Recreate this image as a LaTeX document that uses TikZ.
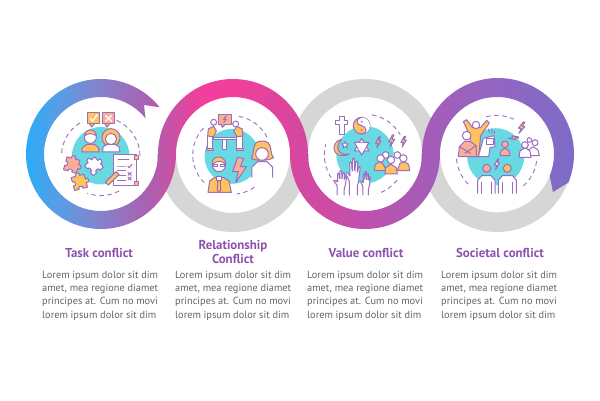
\documentclass[tikz,border=0pt]{standalone}
\usepackage{fontspec}
\setmainfont{PT Sans}
\usetikzlibrary{shapes.geometric}

\definecolor{linepurple}{HTML}{9B6DBE}
\definecolor{headpurple}{HTML}{8E52AE}
\definecolor{bodygrey}{HTML}{626366}
\definecolor{bandgrey}{HTML}{D6D6D6}
\definecolor{blobteal}{HTML}{68D9E2}
\definecolor{iconorange}{HTML}{FFC25E}
\definecolor{iconpink}{HTML}{FAAE96}

\definecolor{ribA}{HTML}{1FB0FF}
\definecolor{ribB}{HTML}{5C9BE2}
\definecolor{ribC}{HTML}{7E86D0}
\definecolor{ribD}{HTML}{A862B2}
\definecolor{ribE}{HTML}{C055A8}
\definecolor{ribF}{HTML}{F23E9C}
\definecolor{ribG}{HTML}{F0409A}
\definecolor{ribH}{HTML}{D5479F}
\definecolor{ribI}{HTML}{C44EAB}
\definecolor{ribJ}{HTML}{A65BB8}
\definecolor{ribK}{HTML}{9466C2}
\definecolor{ribL}{HTML}{7A6CC8}
\pgfdeclarehorizontalshading{ribbonshade}{100bp}{
  color(0bp)=(ribA); color(25bp)=(ribA);
  color(29bp)=(ribB); color(31.75bp)=(ribC);
  color(36.3bp)=(ribD); color(38.1bp)=(ribE);
  color(41.3bp)=(ribF); color(44.5bp)=(ribG);
  color(50bp)=(ribH); color(54.6bp)=(ribI);
  color(60.9bp)=(ribJ); color(66.4bp)=(ribK);
  color(75bp)=(ribL); color(100bp)=(ribL)}

\tikzset{
  ln/.style={draw=linepurple,line width=1pt,line join=round,line cap=round},
  dashring/.style={draw=linepurple,line width=.9pt,dash pattern=on 4.5pt off 3.5pt},
  headtext/.style={text=headpurple,font=\fontsize{12.9}{14}\selectfont\bfseries,align=center},
  bodytext/.style={text=bodygrey,font=\fontsize{10.35}{13.33}\selectfont,align=left,anchor=north west,inner sep=0pt},
  zoomed/.style={shift={#1},x=.3333pt,y=-.3333pt}
}

% x, y, scale, rotation, fill
\newcommand{\bolt}[5]{\draw[ln,fill=#5,shift={(#1,#2)},rotate=#4,scale=#3]
  (3,-18) -- (-8,3) -- (0,3) -- (-4,18) -- (10,-5) -- (2,-5) -- (8,-18) -- cycle;}
% x, y, rotation, fill
\newcommand{\puzzle}[4]{\draw[ln,fill=#4,shift={(#1,#2)},rotate=#3]
  (-20,-20) -- (-6,-20) .. controls (-12,-32) and (12,-32) .. (6,-20) -- (20,-20) -- (20,-6)
  .. controls (32,-12) and (32,12) .. (20,6) -- (20,20) -- (6,20) .. controls (12,10) and (-12,10) .. (-6,20)
  -- (-20,20) -- (-20,6) .. controls (-10,12) and (-10,-12) .. (-20,-6) -- cycle;}
% x, y, x scale, y scale
\newcommand{\hand}[4]{\draw[ln,fill=white,shift={(#1,#2)},xscale=#3,yscale=#4,rounded corners=1pt]
  (-11,0) -- (-11,-28) -- (-21,-42) -- (-16,-46) -- (-9,-37) -- (-10,-66) -- (-5,-66) -- (-3,-46)
  -- (-2,-74) -- (3,-74) -- (4,-46) -- (7,-68) -- (12,-67) -- (11,-44) -- (15,-58) -- (19,-56) -- (14,-26) -- (11,-18) -- (11,0);}

\begin{document}
\begin{tikzpicture}[x=1pt,y=1pt]
\useasboundingbox (0,0) rectangle (600,400);

\foreach \cx/\e in {233/360,497/340}
{
    \fill[bandgrey] (\cx-76,246) arc[start angle=180,end angle=\e,x radius=76,y radius=78]
      -- ([shift={(\e:57)}]\cx,246) arc[start angle=\e,end angle=180,x radius=57,y radius=59] -- cycle;
}
\fill[bandgrey] (290,246) arc[start angle=180,end angle=0,radius=75] -- (422,246)
  arc[start angle=0,end angle=180,radius=57] -- cycle;

\shade[shading=ribbonshade] ([shift={(38.5:75)}]101,246) arc[start angle=38.5,end angle=360,radius=75]
  arc[start angle=180,end angle=0,radius=57]
  arc[start angle=180,end angle=360,radius=75]
  arc[start angle=180,end angle=-22.5,radius=57] -- (553,208)
  -- ([shift={(-22:76)}]498,246) arc[start angle=-22,end angle=180,radius=76]
  arc[start angle=0,end angle=-180,radius=57]
  arc[start angle=0,end angle=180,radius=75]
  arc[start angle=0,end angle=-321.4,radius=57] -- (144,295) -- cycle;

\foreach \cx/\cy/\r in {100.7/244.3/28.7,232/243.7/27.5,365/245.3/28.7,495.7/243.3/28.5}
{
    \fill[blobteal] (\cx,\cy) circle (\r);
}
\foreach \cx/\cy/\r/\s/\e in {100.7/243.7/39.3/175/120,100.7/243.7/39.3/66/0,100.7/243.7/39.3/-62/-110,
  232/245/39.3/225/133,232/245/39.3/80/25,232/245/39.3/-55/-83,
  365/245/40.7/225/165,365/245/40.7/80/30,365/245/40.7/-38/-72,
  496.7/244.3/40.3/225/180,496.7/244.3/40.3/105/65,496.7/244.3/40.3/-8/-52}
{
    \draw[dashring] ([shift={(\s:\r)}]\cx,\cy) arc[start angle=\s,end angle=\e,radius=\r];
}

% task
\begin{scope}[zoomed={(55,295)}]
\draw[ln,fill=iconorange] (97,22) rectangle (135,57);
\draw[ln,fill=iconorange] (104,57) -- (110,66) -- (118,57);
\draw[line width=1.3pt,white] (106,40) -- (113,48) -- (127,29);
\draw[ln,fill=iconpink] (142,22) rectangle (178,57);
\draw[ln,fill=iconpink] (150,57) -- (156,66) -- (164,57);
\draw[line width=1.3pt,white] (151,31) -- (170,49) (170,31) -- (151,49);
\draw[ln,fill=iconorange] (80,141) -- (83,127) -- (96,118) -- (118,118) -- (130,127) -- (133,141) -- cycle;
\draw[ln,fill=white] (106,97) circle (18);
\draw[ln,fill=iconorange] (89,92) .. controls (90,68) and (122,68) .. (124,92) .. controls (110,84) and (100,84) .. (89,92) -- cycle;
\draw[ln,fill=iconorange] (168,98) circle (27);
\draw[ln,fill=white] (142,141) -- (145,125) -- (157,118) -- (180,118) -- (192,125) -- (195,141) -- cycle;
\draw[ln,fill=white] (168,102) circle (17);
\puzzle{50}{180}{-15}{iconpink}
\puzzle{117}{184}{40}{white}
\puzzle{73}{232}{15}{iconorange}
\draw[ln,fill=white] (175,150) rectangle (246,243);
\draw[ln,fill=iconorange] (238,152) rectangle (250,164);
\draw[ln,fill=iconorange] (238,230) rectangle (250,243);
\draw[ln] (190,163) -- (222,163) (187,197) -- (212,197) (187,212) -- (212,212) (187,226) -- (212,226);
\draw[line width=1.5pt,bandgrey!80!black] (187,184) -- (213,184);
\draw[ln] (219,184) -- (223,188) -- (231,178);
\draw[ln] (219,202) -- (229,211) (229,202) -- (219,211) (219,216) -- (229,225) (229,216) -- (219,225);
\draw[ln,fill=iconorange] (151,232) -- (183,200) -- (192,209) -- (160,240) -- cycle;
\end{scope}

% relationship
\begin{scope}[zoomed={(187,295)}]
\draw[ln,fill=iconpink] (95,28) rectangle (133,58);
\draw[ln,fill=iconpink] (102,58) -- (106,67) -- (115,58);
\draw[ln] (118,33) -- (110,43) -- (118,43) -- (110,53);
\draw[ln,fill=white] (61,92) rectangle (78,130);
\draw[ln,fill=white] (150,92) rectangle (168,130);
\draw[ln,fill=iconorange] (58,130) rectangle (80,137);
\draw[ln,fill=iconorange] (148,130) rectangle (170,137);
\draw[ln,fill=iconorange] (62,93) -- (64,72) -- (80,64) -- (88,78) -- (80,95) -- cycle;
\draw[ln,fill=iconorange] (168,93) -- (166,72) -- (150,64) -- (140,78) -- (150,95) -- cycle;
\draw[ln,fill=white] (80,52) circle (9);
\draw[ln,fill=white] (146,57) circle (9);
\draw[ln,fill=white] (108,103) rectangle (118,135);
\draw[ln,fill=white] (80,97) rectangle (150,103);
\draw[ln,fill=iconorange] (63,262) -- (68,228) -- (82,218) -- (110,218) -- (126,228) -- (133,262) -- cycle;
\draw[ln,fill=white] (90,215) rectangle (103,228);
\draw[ln,fill=iconorange] (92,228) -- (100,228) -- (101,256) -- (96,262) -- (91,256) -- cycle;
\draw[ln,fill=white] (96,180) circle (20);
\draw[ln,fill=iconorange] (76,180) .. controls (70,148) and (118,148) .. (116,180) .. controls (110,165) and (85,165) .. (76,180) -- cycle;
\draw[ln] (79,178) rectangle (93,186) (100,178) rectangle (114,186);
\draw[ln,fill=iconpink] (152,157) -- (137,200) -- (154,200) -- (146,233) -- (178,185) -- (160,185) -- (170,160) -- cycle;
\draw[ln,fill=white] (195,217) -- (195,186) -- (212,170) -- (240,170) -- (257,186) -- (257,217);
\draw[ln,fill=iconorange] (225,108) .. controls (190,108) and (205,145) .. (193,160) .. controls (205,168) and (245,168) .. (260,158) .. controls (245,145) and (262,108) .. (225,108) -- cycle;
\draw[ln,fill=white] (225,147) circle (19);
\end{scope}

% value
\begin{scope}[zoomed={(320,295)}]
\draw[ln,fill=white] (57,35) -- (72,35) -- (72,47) -- (83,47) -- (83,60) -- (72,60) -- (72,90) -- (57,90) -- (57,60) -- (45,60) -- (45,47) -- (57,47) -- cycle;
\draw[ln,fill=iconorange] (125,62) circle (25);
\fill[white] (125,37) .. controls (105,42) and (108,60) .. (125,62) .. controls (142,65) and (143,85) .. (125,87) .. controls (158,85) and (158,40) .. (125,37) -- cycle;
\draw[ln] (125,37) .. controls (105,42) and (108,60) .. (125,62) .. controls (142,65) and (143,85) .. (125,87);
\fill[linepurple] (125,50) circle (3) (125,75) circle (3);
\draw[ln,fill=iconorange] (65,103) .. controls (28,110) and (35,168) .. (88,147) .. controls (55,155) and (42,125) .. (65,103) -- cycle;
\node[star,star points=5,star point ratio=2.2,draw=linepurple,line width=.8pt,fill=white,inner sep=0pt,minimum size=7pt] (smallstar) at (75,120) {};
\draw[ln,fill=white] (125,100) -- (147,138) -- (103,138) -- cycle;
\draw[ln,fill=white] (125,150) -- (147,112) -- (103,112) -- cycle;
\fill[white] (113,125) -- (119,113) -- (131,113) -- (137,125) -- (131,137) -- (119,137) -- cycle;
\bolt{174}{112}{.9}{0}{iconorange}
\bolt{214}{108}{1}{0}{iconorange}
\bolt{250}{110}{.9}{0}{iconorange}
\draw[ln,fill=white] (197,150) circle (10);
\draw[ln,fill=white] (232,150) circle (10);
\draw[ln,fill=iconorange] (163,197) -- (166,178) -- (180,170) -- (190,178) -- (198,197) -- cycle;
\draw[ln,fill=iconorange] (232,197) -- (240,175) -- (252,170) -- (266,178) -- (269,197) -- cycle;
\draw[ln,fill=white] (182,160) circle (11);
\draw[ln,fill=white] (250,160) circle (11);
\draw[ln,fill=iconorange] (195,207) -- (197,188) -- (213,178) -- (229,188) -- (232,207) -- cycle;
\draw[ln,fill=white] (213,165) circle (11);
\hand{62}{270}{.95}{1}
\hand{137}{270}{.75}{.95}
\hand{100}{270}{1.1}{1.5}
\end{scope}

% societal
\begin{scope}[zoomed={(450,295)}]
\draw[ln,fill=iconorange] (40,50) -- (50,44) -- (68,68) -- (92,68) -- (110,46) -- (118,54) -- (92,92) -- (86,155) -- (62,155) -- (60,92) -- cycle;
\draw[ln,fill=white] (78,60) circle (11);
\draw[ln,fill=white] (85,155) -- (100,100) -- (132,92) -- (135,125) -- (120,128) -- (116,155) -- cycle;
\draw[ln,fill=white] (110,100) rectangle (130,120);
\draw[ln] (115,72) -- (118,82) (125,72) -- (127,82) (134,78) -- (132,86);
\draw[ln,fill=iconpink] (25,155) -- (28,125) -- (45,108) -- (62,110) -- (78,122) -- (80,155) -- cycle;
\draw[ln] (28,125) -- (62,145) (78,122) -- (45,145);
\draw[ln,fill=white] (50,92) circle (13);
\draw[ln,fill=iconpink] (165,118) circle (10);
\draw[ln,fill=iconpink] (150,152) -- (153,137) -- (165,130) -- (177,137) -- (180,152) -- cycle;
\bolt{214}{68}{1}{-10}{iconorange}
\bolt{190}{98}{.8}{-70}{iconorange}
\draw[ln,fill=white] (238,105) circle (7);
\draw[ln,fill=white] (232,152) -- (235,135) -- (250,125) -- (264,135) -- (268,152) -- cycle;
\draw[ln,fill=white] (255,113) circle (9);
\draw[ln,fill=white] (207,157) -- (210,138) -- (225,128) -- (240,138) -- (243,157) -- cycle;
\draw[ln,fill=white] (225,120) circle (10);
\draw[ln,fill=white] (83,265) -- (83,226) -- (95,212) -- (123,212) -- (135,226) -- (135,265);
\draw[ln] (95,232) -- (95,265) (123,232) -- (123,265);
\draw[ln,fill=white] (145,265) -- (145,226) -- (157,212) -- (188,212) -- (199,226) -- (199,265);
\draw[ln] (157,232) -- (157,265) (188,232) -- (188,265);
\draw[ln,fill=iconpink] (110,190) circle (12);
\draw[ln,fill=iconorange] (172,190) circle (12);
\bolt{140}{178}{.85}{0}{white}
\end{scope}

\node[headtext] (taskhead) at (99,147.5) {Task conflict};
\node[headtext] (relhead) at (233,147.5) {Relationship\\Conflict};
\node[headtext] (valuehead) at (366,147.5) {Value conflict};
\node[headtext] (socialhead) at (500,147.5) {Societal conflict};

\foreach \x/\nm in {42/task,175/rel,307/value,441/social}
{
    \node[bodytext] (\nm body) at (\x,129.5) {Lorem ipsum dolor sit dim\\amet, mea regione diamet\\principes at. Cum no movi\\lorem ipsum dolor sit dim};
}
\end{tikzpicture}
\end{document}
